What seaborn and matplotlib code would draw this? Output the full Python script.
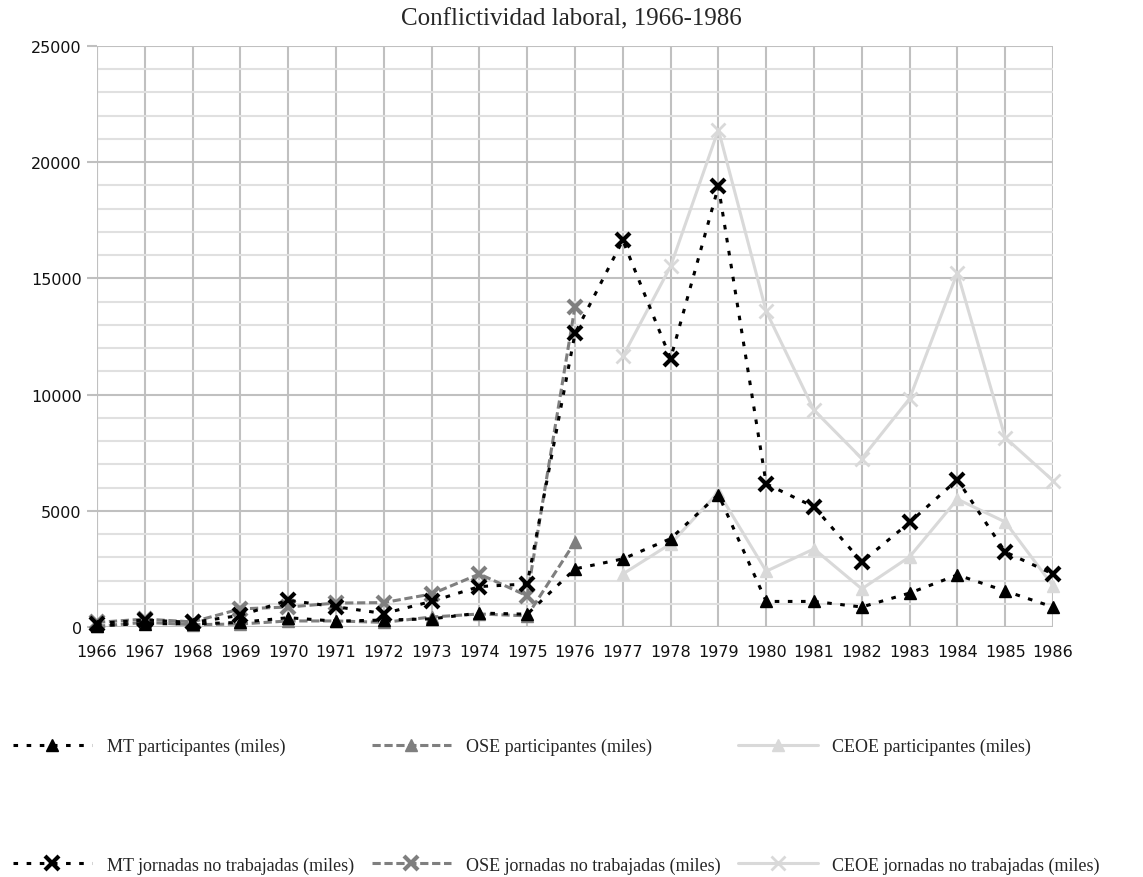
import matplotlib
matplotlib.use("Agg")
import matplotlib.pyplot as plt
import seaborn as sns
from matplotlib.ticker import MultipleLocator

# --- datos (miles) ---
years_mt = list(range(1966, 1987))
years_ose = list(range(1966, 1977))
years_ceoe = list(range(1977, 1987))

mt_participantes = [50, 150, 130, 200, 400, 250, 300, 350, 600, 550,
                    2500, 2930, 3800, 5700, 1100, 1100, 860, 1460, 2240, 1550, 860]
mt_jornadas = [150, 300, 200, 500, 1150, 870, 580, 1100, 1740, 1850,
               12630, 16640, 11550, 18960, 6160, 5170, 2800, 4500, 6340, 3230, 2280]
ose_participantes = [30, 200, 100, 130, 260, 260, 200, 430, 560, 480, 3660]
ose_jornadas = [200, 340, 220, 780, 860, 1030, 1050, 1420, 2280, 1340, 13790]
ceoe_participantes = [2280, 3580, 5800, 2400, 3360, 1640, 3020, 5500, 4520, 1770]
ceoe_jornadas = [11640, 15520, 21400, 13580, 9330, 7250, 9830, 15250, 8150, 6300]

title = "Conflictividad laboral, 1966-1986"
labels = [
    "MT participantes (miles)",
    "MT jornadas no trabajadas (miles)",
    "OSE participantes (miles)",
    "OSE jornadas no trabajadas (miles)",
    "CEOE participantes (miles)",
    "CEOE jornadas no trabajadas (miles)",
]

sns.set_theme(style="white")
plt.rcParams["font.family"] = ["DejaVu Sans"]
serif = ["Liberation Serif", "DejaVu Serif"]

fig = plt.figure(figsize=(11.43, 8.78), dpi=100)
ax = fig.add_axes([97 / 1143, 1 - 628 / 878, (1053 - 97) / 1143, (628 - 47) / 878])

black = "#000000"
grey = "#7f7f7f"
light = "#d9d9d9"
dots = (0, (1.5, 2.8))
dashes = (0, (2.7, 1.2))

series = [
    (years_mt, mt_participantes, black, dots, "^", 9, 1, 5),
    (years_mt, mt_jornadas, black, dots, "x", 10, 3, 5),
    (years_ose, ose_participantes, grey, dashes, "^", 9, 1, 4),
    (years_ose, ose_jornadas, grey, dashes, "x", 10, 3, 4),
    (years_ceoe, ceoe_participantes, light, "-", "^", 9, 1, 3),
    (years_ceoe, ceoe_jornadas, light, "-", "x", 10, 2, 3),
]

handles = []
for (xs, ys, col, ls, mk, ms, mew, z), lab in zip(series, labels):
    sns.lineplot(x=xs, y=ys, ax=ax, color=col, linestyle=ls, linewidth=2.2,
                 marker=mk, markersize=ms, markeredgewidth=mew,
                 markeredgecolor=col, markerfacecolor=col, label=lab,
                 zorder=z, clip_on=False)
    handles.append(ax.get_lines()[-1])

ax.set_xlim(1966, 1986)
ax.set_ylim(0, 25000)
ax.set_xticks(years_mt)
ax.set_xticklabels([str(y) for y in years_mt])
ax.yaxis.set_major_locator(MultipleLocator(5000))
ax.yaxis.set_minor_locator(MultipleLocator(1000))

ax.grid(which="major", axis="both", color="#c0c0c0", linewidth=1.5)
ax.grid(which="minor", axis="y", color="#e0e0e0", linewidth=1.5)
ax.set_axisbelow(True)
for s in ax.spines.values():
    s.set_visible(False)
ax.axhline(0, color="#c0c0c0", linewidth=1.5, zorder=1)
ax.axvline(1966, color="#c0c0c0", linewidth=1.5, zorder=1)

ax.tick_params(axis="y", which="major", left=True, length=7, width=1.5,
               color="#c0c0c0", labelsize=11.5, labelcolor="#111111", pad=4)
ax.tick_params(axis="y", which="minor", left=False)
ax.tick_params(axis="x", bottom=False, labelsize=11.5, labelcolor="#111111", pad=6)
ax.set_xlabel("")
ax.set_ylabel("")

fig.suptitle(title, y=0.99, fontsize=18, family=serif)

ax.get_legend().remove()
fig.legend(handles=handles, labels=labels, loc="center left", ncol=3,
           bbox_to_anchor=(0.0, 0.081), frameon=False, borderpad=0.2,
           prop={"family": serif, "size": 13},
           handlelength=4.4, handletextpad=0.8, columnspacing=1.0,
           labelspacing=5.6, numpoints=1)

fig.savefig("out.png", dpi=100)
